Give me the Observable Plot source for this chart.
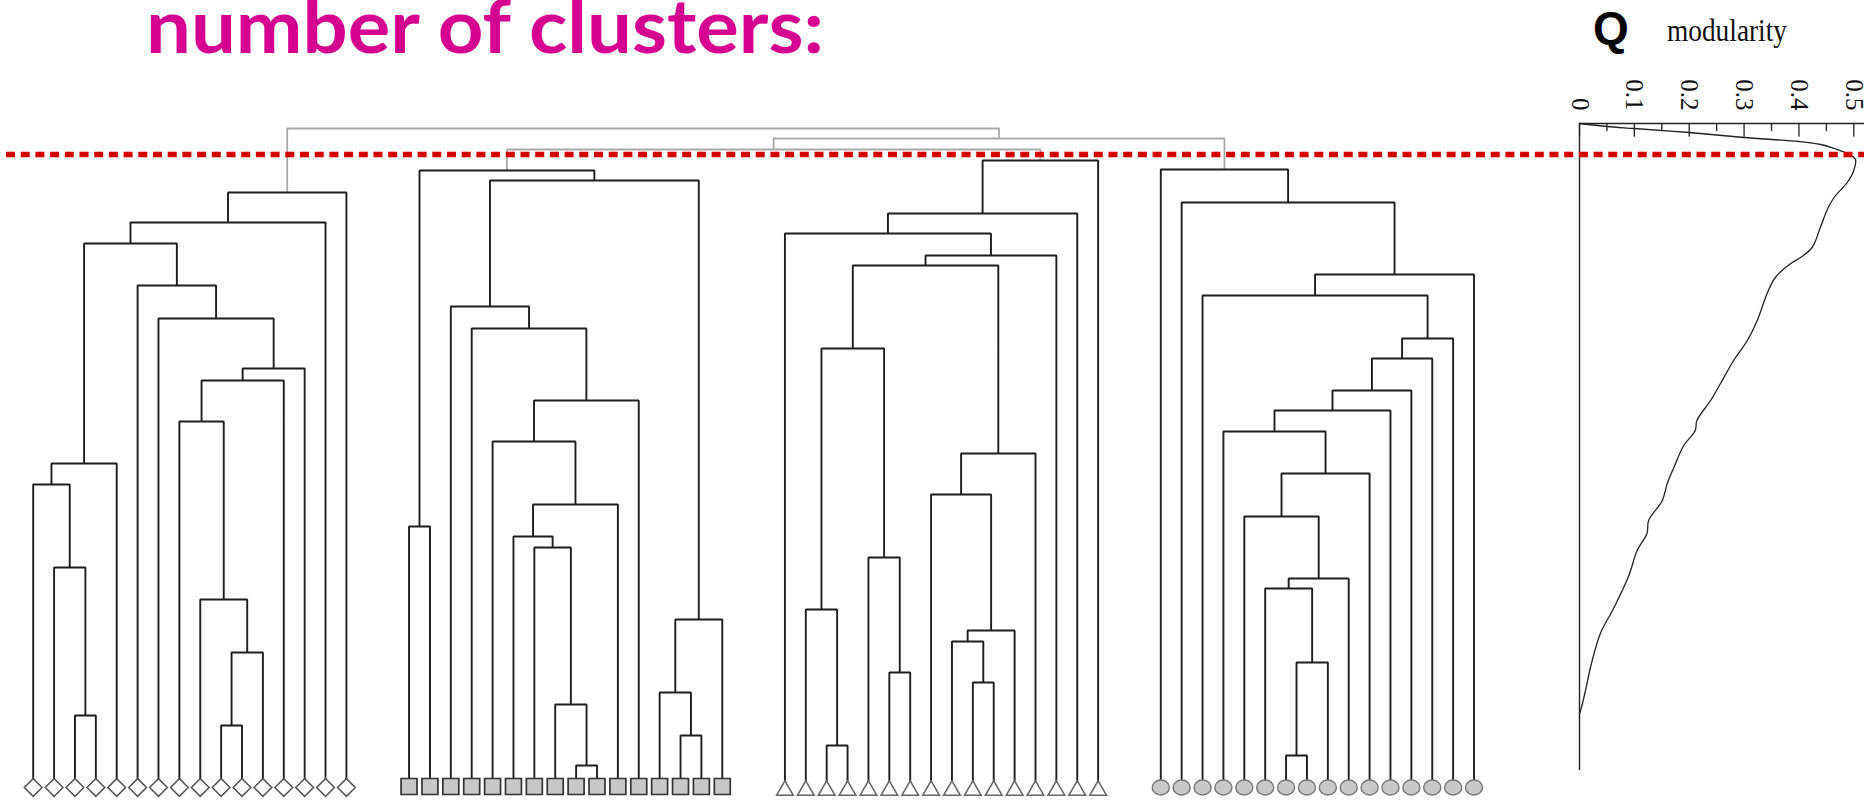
<!DOCTYPE html>
<html>
<head>
<meta charset="utf-8">
<script src="https://cdn.jsdelivr.net/npm/d3@7"></script>
<script src="https://cdn.jsdelivr.net/npm/@observablehq/plot@0.6"></script>
<style>
  html, body { margin: 0; padding: 0; background: #fff; overflow: hidden; }
  #wrap { position: relative; width: 1864px; height: 800px; }
  #wrap > svg { position: absolute; left: 0; top: 0; }
</style>
</head>
<body>
<div id="wrap"></div>
<script>
// ---------------- data ----------------
// Leaf slot of the first leaf of each of the 4 clusters (16 leaves each, 2 empty slots between clusters)
const clusterSlotStart = [0, 18, 36, 54];
const leavesPerCluster = 16;
const leafSymbols = ["diamond", "square", "triangle", "circle"];

// Merge tables (hclust convention: -k = leaf k of the cluster, +k = merge row k), height of the join
const mergesC1 = [
  [-10, -11, 6.2], [-3, -4, 7.2], [1, -12, 13.5], [-9, 3, 18.8], [-2, 2, 22.0],
  [-1, 5, 30.3], [6, -5, 32.4], [-8, 4, 36.6], [8, -13, 40.7], [9, -14, 41.9],
  [-7, 10, 46.9], [-6, 11, 50.2], [7, 12, 54.4], [13, -15, 56.5], [14, -16, 59.5]
];
const mergesC2 = [
  [-9, -10, 2.2], [-14, -15, 5.2], [-8, 1, 8.3], [-13, 2, 9.5], [4, -16, 16.8],
  [-7, 3, 24.0], [-6, 6, 25.1], [-1, -2, 26.1], [7, -11, 28.3], [-5, 9, 34.6],
  [10, -12, 38.7], [-4, 11, 45.9], [-3, 12, 48.1], [13, 5, 60.7], [8, 14, 61.7]
];
const mergesC3 = [
  [-3, -4, 4.2], [-10, -11, 10.5], [-6, -7, 11.5], [-9, 2, 14.6], [4, -12, 15.7],
  [-2, 1, 17.8], [-5, 3, 23.0], [-8, 5, 29.3], [8, -13, 33.4], [6, 7, 43.9],
  [10, 9, 52.2], [11, -14, 53.2], [-1, 12, 55.4], [13, -15, 57.4], [14, -16, 62.7]
];
const mergesC4 = [
  [-7, -8, 3.2], [1, -9, 12.5], [-6, 2, 19.9], [3, -10, 20.9], [-5, 4, 27.1],
  [5, -11, 31.4], [-4, 6, 35.6], [7, -12, 37.7], [8, -13, 39.7], [9, -14, 42.9],
  [10, -15, 44.9], [-3, 11, 49.2], [12, -16, 51.3], [-2, 13, 58.5], [-1, 14, 61.8]
];
// joins between the cluster roots (-k = cluster k)
const topMerges = [[-2, -3, 63.8], [1, -4, 64.9], [-1, 2, 65.9]];
const cutHeight = 63.3;

// modularity curve: step (same vertical scale as the dendrogram) and Q
const qSteps  = [66.4, 66.1, 65.9, 65.5, 65.0, 64.6, 64.3, 63.9, 63.4, 62.8, 61.7, 60.5, 59.0, 57.7, 56.0, 54.0, 53.0, 52.4, 51.0, 49.4, 46.7, 44.7, 42.7, 40.4, 38.7, 36.7, 35.7, 34.2, 32.0, 30.4, 28.7, 26.7, 25.4, 23.7, 21.2, 18.0, 15.4, 12.0, 9.7, 7.7, 7.4];
const qValues = [0, 0.05, 0.1, 0.2, 0.3, 0.4, 0.44, 0.464, 0.488, 0.503, 0.5, 0.488, 0.464, 0.451, 0.439, 0.424, 0.403, 0.385, 0.357, 0.342, 0.324, 0.306, 0.281, 0.257, 0.239, 0.214, 0.211, 0.19, 0.172, 0.16, 0.151, 0.126, 0.123, 0.105, 0.09, 0.063, 0.038, 0.02, 0.011, 0.002, 0];
const qTicks = [0, 0.1, 0.2, 0.3, 0.4, 0.5];
const qMinorTicks = [0.05, 0.15, 0.25, 0.35, 0.45];
const qAxisTop = 66.4;
const qAxisBottom = 1.7;

const titleText = "number of clusters:";
const qLabel = "Q";
const qSubLabel = "modularity";

// ---------------- build tree geometry ----------------
const clusterMerges = [mergesC1, mergesC2, mergesC3, mergesC4];
const blackPaths = [];
const grayPaths = [];
const roots = [];
clusterMerges.forEach((merges, c) => {
  const nodes = [];
  const pos = r => r < 0 ? {x: clusterSlotStart[c] + (-r - 1), h: 0} : nodes[r - 1];
  merges.forEach(([a, b, h], i) => {
    const A = pos(a), B = pos(b);
    nodes.push({x: (A.x + B.x) / 2, h});
    const id = `c${c}m${i}`;
    blackPaths.push({id, x: A.x, h: A.h}, {id, x: A.x, h}, {id, x: B.x, h}, {id, x: B.x, h: B.h});
  });
  roots.push(nodes[nodes.length - 1]);
});
const topNodes = [];
topMerges.forEach(([a, b, h], i) => {
  const pos = r => r < 0 ? roots[-r - 1] : topNodes[r - 1];
  const A = pos(a), B = pos(b);
  topNodes.push({x: (A.x + B.x) / 2, h});
  const id = `t${i}`;
  grayPaths.push({id, x: A.x, h: A.h}, {id, x: A.x, h}, {id, x: B.x, h}, {id, x: B.x, h: B.h});
});

const leaves = [];
clusterSlotStart.forEach((s, c) => {
  for (let i = 0; i < leavesPerCluster; i++) leaves.push({slot: s + i, cluster: c});
});
const leavesOf = c => leaves.filter(d => d.cluster === c);

const ellipseSymbol = {
  draw(ctx, size) {
    const r = Math.sqrt(size / Math.PI), rx = r * 1.07, ry = r * 0.93, k = 0.5523;
    ctx.moveTo(rx, 0);
    ctx.bezierCurveTo(rx, ry * k, rx * k, ry, 0, ry);
    ctx.bezierCurveTo(-rx * k, ry, -rx, ry * k, -rx, 0);
    ctx.bezierCurveTo(-rx, -ry * k, -rx * k, -ry, 0, -ry);
    ctx.bezierCurveTo(rx * k, -ry, rx, -ry * k, rx, 0);
    ctx.closePath();
  }
};
const tickShape = {draw(ctx, l) { ctx.moveTo(0, 0); ctx.lineTo(0, -l); }};

const W = 1864, H = 800;
const yScale = {domain: [0, 66.4], range: [787, 123], axis: null};

// ---------------- dendrogram ----------------
const dendro = Plot.plot({
  width: W, height: H, margin: 0,
  style: {background: "transparent", overflow: "visible"},
  x: {domain: [0, 69], range: [32.7, 1473.5], axis: null},
  y: yScale,
  marks: [
    Plot.line(grayPaths, {x: "x", y: "h", z: "id", stroke: "#a9a9a9", strokeWidth: 1.8, strokeLinejoin: "miter", strokeLinecap: "butt"}),
    Plot.line(blackPaths, {x: "x", y: "h", z: "id", stroke: "#1e1e1e", strokeWidth: 1.9, strokeLinejoin: "miter", strokeLinecap: "butt"}),
    Plot.dot(leavesOf(0), {x: "slot", y: 0, symbol: "diamond2", r: 8, fill: "white", stroke: "#555", strokeWidth: 1.5}),
    Plot.dot(leavesOf(1), {x: "slot", y: 0, dy: -1, symbol: "square", r: 9, fill: "#c8c8c8", stroke: "#333", strokeWidth: 1.7}),
    Plot.dot(leavesOf(2), {x: "slot", y: 0, dy: 3, symbol: "triangle2", r: 8, fill: "white", stroke: "#666", strokeWidth: 1.5}),
    Plot.dot(leavesOf(3), {x: "slot", y: 0, symbol: ellipseSymbol, r: 8, fill: "#c8c8c8", stroke: "#777", strokeWidth: 1.4})
  ]
});

// ---------------- modularity panel + cut line ----------------
const qRows = qSteps.map((s, i) => ({step: s, q: qValues[i]}));
const qPlot = Plot.plot({
  width: W, height: H, marginLeft: 6, marginRight: 0, marginTop: 0, marginBottom: 0,
  style: {background: "transparent", overflow: "visible"},
  x: {domain: [0, 0.5], range: [1579, 1853.3], axis: null},
  y: yScale,
  marks: [
    Plot.ruleY([qAxisTop], {x1: 0, x2: 0.52, stroke: "#222", strokeWidth: 1.4}),
    Plot.ruleX([0], {y1: qAxisBottom, y2: qAxisTop, stroke: "#222", strokeWidth: 1.4}),
    Plot.vector(qTicks, {x: d => d, y: qAxisTop, length: 12.7, rotate: 180, anchor: "start", shape: tickShape, stroke: "#222", strokeWidth: 1.3}),
    Plot.vector(qMinorTicks, {x: d => d, y: qAxisTop, length: 7, rotate: 180, anchor: "start", shape: tickShape, stroke: "#222", strokeWidth: 1.3}),
    Plot.text(qTicks, {x: d => d, y: qAxisTop, text: d => String(d), rotate: 90, textAnchor: "end", lineAnchor: "middle", dy: -13, fontFamily: "Liberation Serif", fontSize: 25, fill: "#111"}),
    Plot.line(qRows, {x: "q", y: "step", stroke: "#222", strokeWidth: 1.3, curve: "catmull-rom"}),
    Plot.ruleY([cutHeight], {stroke: "#d40000", strokeWidth: 5.5, strokeDasharray: "9,5.7"})
  ]
});

// ---------------- header texts ----------------
const wrap = document.getElementById("wrap");
wrap.appendChild(dendro);
wrap.appendChild(qPlot);

const textSvg = d3.create("svg").attr("width", W).attr("height", H)
  .style("overflow", "visible");
textSvg.append("text")
  .attr("x", 146).attr("y", 53)
  .attr("textLength", 678).attr("lengthAdjust", "spacingAndGlyphs")
  .attr("font-family", "Lato, 'Open Sans', sans-serif").attr("font-weight", "bold")
  .attr("font-size", 74).attr("fill", "#d5008f")
  .text(titleText);
textSvg.append("text")
  .attr("x", 1593).attr("y", 43.5)
  .attr("font-family", "'Liberation Sans', Arial, sans-serif").attr("font-weight", "bold")
  .attr("font-size", 46).attr("fill", "#000")
  .text(qLabel);
textSvg.append("text")
  .attr("x", 1667).attr("y", 40.5)
  .attr("textLength", 120).attr("lengthAdjust", "spacingAndGlyphs")
  .attr("font-family", "'Liberation Serif', 'Times New Roman', serif")
  .attr("font-size", 31).attr("fill", "#111")
  .text(qSubLabel);
wrap.appendChild(textSvg.node());
</script>
</body>
</html>
